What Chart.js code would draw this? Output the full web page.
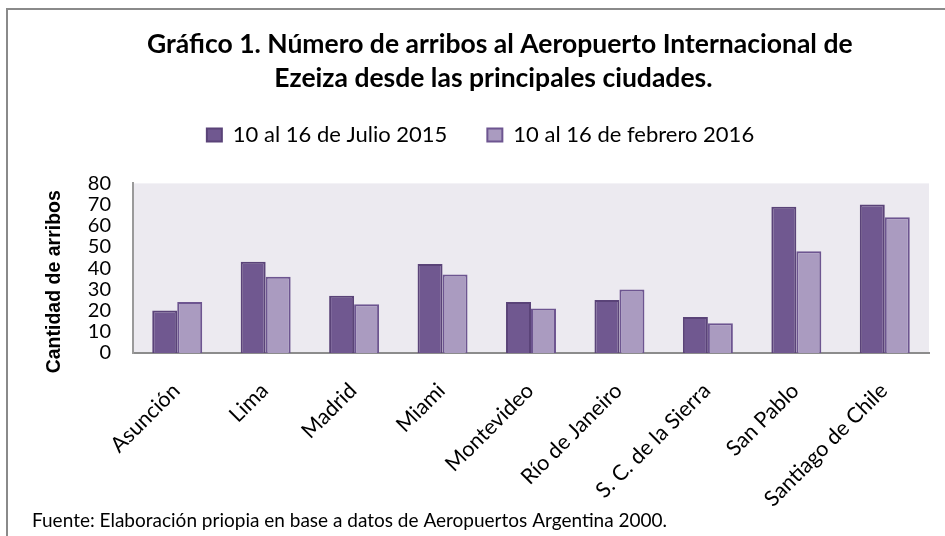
<!DOCTYPE html>
<html>
<head>
<meta charset="utf-8">
<title>Arribos Ezeiza</title>
<script src="https://cdn.jsdelivr.net/npm/chart.js@4.4.1/dist/chart.umd.min.js"></script>
<style>
    html, body { margin: 0; padding: 0; background: #fff; }
    #wrap { position: relative; width: 945px; height: 536px; }
    #frame {
        position: absolute; left: 6px; top: 8px; right: 0; bottom: 0;
        border-top: 2px solid #8a8a8a; border-left: 2px solid #8a8a8a;
        pointer-events: none;
    }
</style>
</head>
<body>
<div id="wrap">
    <canvas id="chart" width="945" height="536"></canvas>
    <div id="frame"></div>
</div>
<script>
// datos
var ciudades = ['Asunción', 'Lima', 'Madrid', 'Miami', 'Montevideo', 'Río de Janeiro',
                'S. C. de la Sierra', 'San Pablo', 'Santiago de Chile'];
var julio2015 = [20, 43, 27, 42, 24, 25, 17, 69, 70];
var febrero2016 = [24, 36, 23, 37, 21, 30, 14, 48, 64];
var yTicks = [0, 10, 20, 30, 40, 50, 60, 70, 80];

var titulo = ['Gráfico 1. Número de arribos al Aeropuerto Internacional de',
              'Ezeiza desde las principales ciudades.'];
var tituloY = 'Cantidad de arribos';
var fuente = 'Fuente: Elaboración priopia en base a datos de Aeropuertos Argentina 2000.';

// espacios para correr el texto centrado (como en el original)
function pad(s, left, right) {
    return ' '.repeat(left) + s + ' '.repeat(right);
}

Chart.defaults.color = '#000';
Chart.defaults.font.family = 'Lato, "Open Sans", sans-serif';

// fondo del area de trazado
var plotBg = {
    id: 'plotBg',
    beforeDraw: function(chart) {
        var a = chart.chartArea;
        var ctx = chart.ctx;
        ctx.save();
        ctx.fillStyle = '#ECEAF0';
        ctx.fillRect(a.left, a.top, a.right - a.left, a.bottom - a.top);
        ctx.restore();
    }
};

// espacio extra debajo de la leyenda
var legendGap = {
    id: 'legendGap',
    beforeInit: function(chart) {
        var origFit = chart.legend.fit;
        chart.legend.fit = function() {
            origFit.bind(chart.legend)();
            this.height += 27.5;
        };
    }
};

var ctx = document.getElementById('chart').getContext('2d');
new Chart(ctx, {
    type: 'bar',
    data: {
        labels: ciudades,
        datasets: [{
            label: '10 al 16 de Julio 2015',
            data: julio2015,
            backgroundColor: '#705890',
            borderColor: '#5A4378',
            borderWidth: 2
        }, {
            label: '10 al 16 de febrero 2016',
            data: febrero2016,
            backgroundColor: '#AA9BC0',
            borderColor: '#6D5590',
            borderWidth: 2
        }]
    },
    options: {
        responsive: false,
        animation: false,
        layout: { padding: { left: 32, right: 16, top: 0, bottom: 0 } },
        datasets: {
            bar: { categoryPercentage: 0.565, barPercentage: 1 }
        },
        scales: {
            x: {
                grid: { display: false, drawTicks: false },
                border: { display: true, color: '#8C8C8C', width: 2 },
                ticks: {
                    autoSkip: false,
                    minRotation: 45,
                    maxRotation: 45,
                    padding: 25,
                    labelOffset: -1,
                    font: { size: 21.5 }
                },
                afterFit: function(scale) { scale.height = 156.2; }
            },
            y: {
                min: 0,
                max: 80,
                grid: { display: false, drawTicks: false },
                border: { display: true, color: '#9A9A9A', width: 2 },
                ticks: { autoSkip: false, padding: 22, font: { size: 20 } },
                afterBuildTicks: function(axis) {
                    axis.ticks = yTicks.map(function(v) { return { value: v }; });
                },
                title: {
                    display: true,
                    text: pad(tituloY, 0, 5),
                    font: { family: '"Liberation Sans", Arial, sans-serif', size: 19.5, weight: 'bold' },
                    padding: { top: 11, bottom: 0 }
                },
                afterFit: function(scale) { scale.width = 101; }
            }
        },
        plugins: {
            title: {
                display: true,
                text: [pad(titulo[0], 6, 0), pad(titulo[1], 4, 0)],
                font: { size: 26.5, weight: 'bold', lineHeight: 1.3 },
                padding: { top: 27, bottom: -12 }
            },
            legend: {
                position: 'top',
                labels: {
                    boxWidth: 15,
                    boxHeight: 13,
                    padding: 40,
                    font: { size: 22 }
                }
            },
            subtitle: {
                display: true,
                position: 'bottom',
                align: 'start',
                text: fuente,
                font: { size: 19, lineHeight: 1.2 },
                padding: { top: 0, bottom: 4 }
            },
            tooltip: { enabled: false }
        }
    },
    plugins: [plotBg, legendGap]
});
</script>
</body>
</html>
